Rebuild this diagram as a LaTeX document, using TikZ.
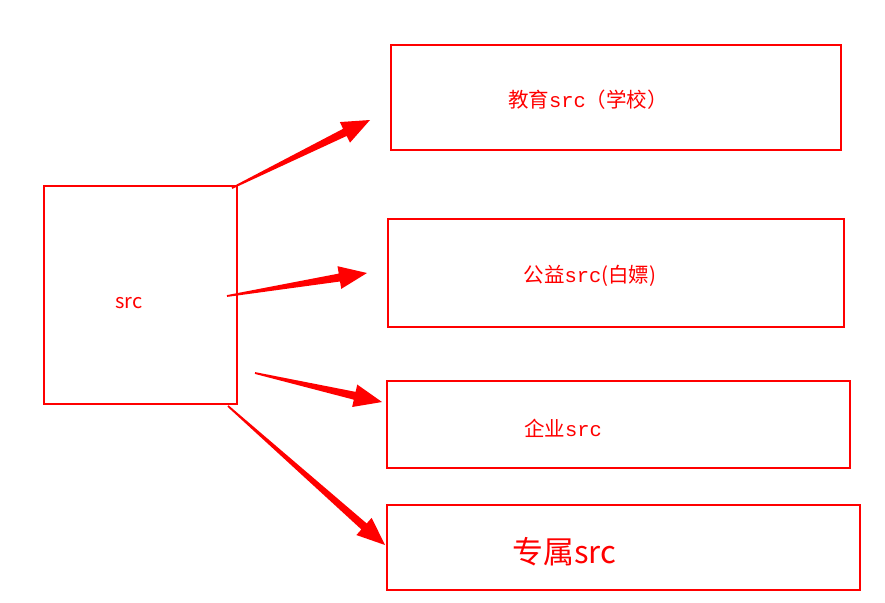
\documentclass[tikz,border=0pt]{standalone}
\usepackage{fontspec}
\newfontfamily\cjk{Noto Sans CJK SC}
\newfontfamily\mono{Liberation Mono}
\usetikzlibrary{calc}
\definecolor{pred}{RGB}{255,0,0}
\newcommand{\taperarrow}[2]{%
  \path ($(#2)!28pt!(#1)$) coordinate (baseT);
  \fill[pred] ($(#1)!0.9pt!90:(#2)$) -- ($(baseT)!4pt!-90:(#1)$) -- ($(baseT)!11.5pt!-90:(#1)$) -- (#2)
    -- ($(baseT)!11.5pt!90:(#1)$) -- ($(baseT)!4pt!90:(#1)$) -- ($(#1)!0.9pt!-90:(#2)$) -- cycle;}
\begin{document}
\begin{tikzpicture}[x=1pt,y=-1pt,
  box/.style={draw=pred,line width=2.8pt,inner sep=0pt,outer sep=0pt,anchor=north west},
  lbl/.style={text=pred,inner sep=0pt,anchor=center}]
\useasboundingbox[fill=white] (0,0) rectangle (885,602);
% boxes
\node[box,minimum width=193pt,minimum height=218pt] (src) at (44,186) {};
\node[box,minimum width=450pt,minimum height=105pt] (edu) at (391,45) {};
\node[box,minimum width=456pt,minimum height=108pt] (pub) at (388,219) {};
\node[box,minimum width=463pt,minimum height=87pt] (ent) at (387,381) {};
\node[box,minimum width=473pt,minimum height=85pt] (exc) at (387,505) {};
% texts
\node[lbl] (srct) at (129,303) {\cjk\fontsize{20}{22}\selectfont src};
\node[lbl] (edut) at (588,100) {\cjk\fontsize{20.5}{22}\selectfont 教育{\mono src}（学校）};
\node[lbl] (pubt) at (590,276) {\cjk\fontsize{20.5}{22}\selectfont 公益{\mono src}(白嫖)};
\node[lbl] (entt) at (563,428) {\cjk\fontsize{20.5}{22}\selectfont 企业{\mono src}};
\node[lbl] (exct) at (564,552) {\cjk\fontsize{31}{34}\selectfont 专属src};
% arrow endpoints
\coordinate (a1s) at (232,188); \coordinate (a1e) at (370,120);
\coordinate (a2s) at (227,296); \coordinate (a2e) at (367,273);
\coordinate (a3s) at (255,373); \coordinate (a3e) at (382,402);
\coordinate (a4s) at (228,406); \coordinate (a4e) at (385,545);
\taperarrow{a1s}{a1e}
\taperarrow{a2s}{a2e}
\taperarrow{a3s}{a3e}
\taperarrow{a4s}{a4e}
\end{tikzpicture}
\end{document}
